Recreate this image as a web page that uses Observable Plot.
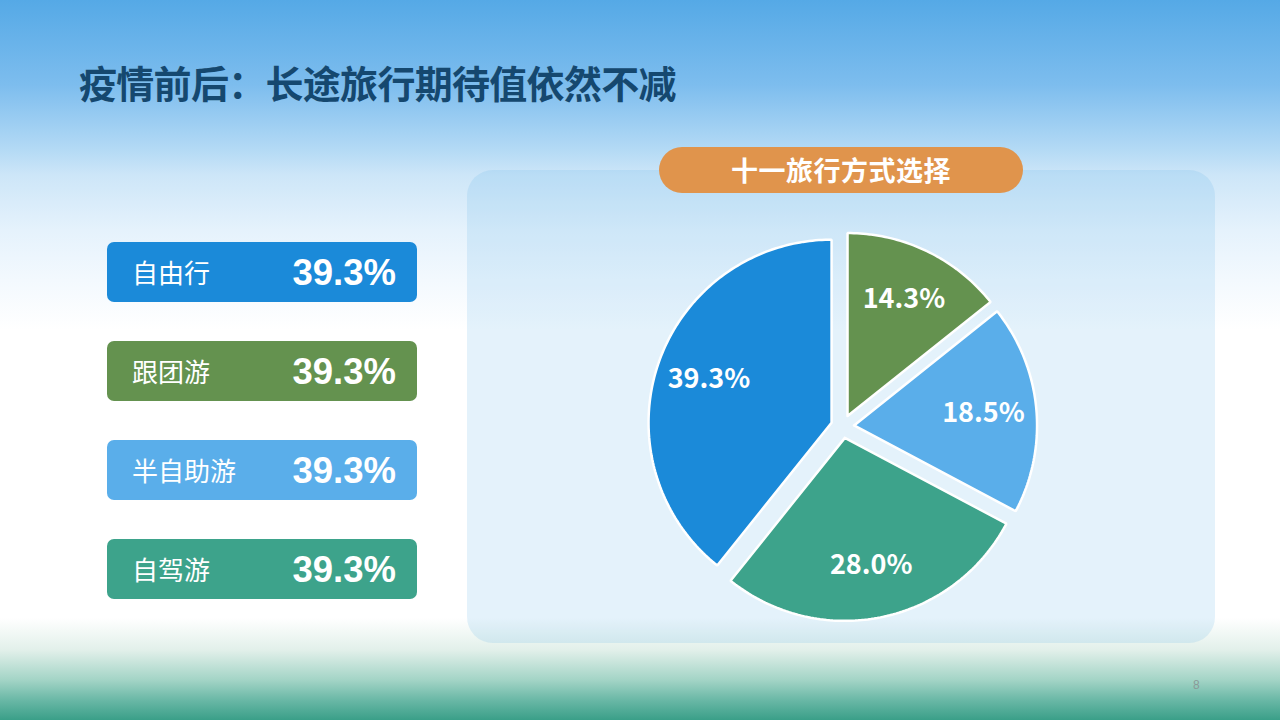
<!DOCTYPE html>
<html>
<head>
<meta charset="utf-8">
<script src="https://cdn.jsdelivr.net/npm/d3@7"></script>
<script src="https://cdn.jsdelivr.net/npm/@observablehq/plot@0.6"></script>
<style>
  html, body { margin: 0; padding: 0; }
  body {
    width: 1280px; height: 720px; overflow: hidden; position: relative;
    font-family: "Noto Sans CJK SC", "Noto Sans", sans-serif;
    background: linear-gradient(to bottom,
      #55a9e6 0px, #7dbdee 85px, #b4daf5 150px, #cde6f8 175px,
      #e5f2fc 230px, #f3f9fe 280px, #ffffff 330px, #ffffff 618px,
      #e2f0ea 650px, #a3d4c6 680px, #6ab8a6 700px, #3a9f88 720px);
  }
  #title {
    position: absolute; left: 79px; top: 56px; font-size: 38px; font-weight: 700;
    color: #15486f; line-height: 52px; letter-spacing: -0.7px; white-space: nowrap;
  }
  #panel {
    position: absolute; left: 467px; top: 170px; width: 748px; height: 473px;
    border-radius: 26px; background: rgba(90,174,233,0.16);
  }
  #pill {
    position: absolute; left: 659px; top: 147px; width: 364px; height: 46px;
    border-radius: 23px; background: #e0944c; color: #fff; font-size: 27px; font-weight: 700;
    text-align: center; line-height: 46px; letter-spacing: 0.5px;
  }
  .box {
    position: absolute; left: 107px; width: 310px; height: 60px; border-radius: 7px; color: #fff;
  }
  .box .lab { position: absolute; left: 25px; top: 0; line-height: 60px; font-size: 26px; font-weight: 400; }
  .box .val { position: absolute; right: 21px; top: 0; line-height: 62px; font-size: 36.5px; font-weight: 700;
    font-family: "Liberation Sans", Arial, sans-serif; }
  #pie { position: absolute; left: 622px; top: 206px; }
  #page { position: absolute; left: 1193px; top: 678px; font-size: 12px; color: #8a9a98; font-family: "Liberation Sans", sans-serif; }
</style>
</head>
<body>
<div id="title"></div>
<div id="panel"></div>
<div id="pill"></div>
<div id="boxes"></div>
<div id="pie"></div>
<div id="page">8</div>
<script>
// ---- data ----
const titleText = "疫情前后：长途旅行期待值依然不减";
const chartTitle = "十一旅行方式选择";
const boxLabels = ["自由行", "跟团游", "半自助游", "自驾游"];
const boxValues = ["39.3%", "39.3%", "39.3%", "39.3%"];
const boxColors = ["#1b8ad9", "#64924f", "#5aaeea", "#3da38b"];

// pie, clockwise from 12 o'clock
const pieCategories = ["跟团游", "半自助游", "自驾游", "自由行"];
const pieValues = [14.3, 18.5, 28.0, 39.3];
const pieLabels = ["14.3%", "18.5%", "28.0%", "39.3%"];
const pieColors = ["#64924f", "#5aaeea", "#3da38b", "#1b8ad9"];

// ---- html parts ----
document.getElementById("title").textContent = titleText;
document.getElementById("pill").textContent = chartTitle;
const boxesEl = document.getElementById("boxes");
boxLabels.forEach((l, i) => {
  const b = document.createElement("div");
  b.className = "box";
  b.style.top = (242 + i * 99) + "px";
  b.style.background = boxColors[i];
  b.innerHTML = `<span class="lab"></span><span class="val"></span>`;
  b.querySelector(".lab").textContent = l;
  b.querySelector(".val").textContent = boxValues[i];
  boxesEl.appendChild(b);
});

// ---- pie geometry from data ----
const R = 0.915, OFF = 0.058, LABR = 0.71;
const arcs = d3.pie().sort(null).value(d => d)(pieValues);
const outline = [];
const labels = [];
arcs.forEach((a, i) => {
  const mid = (a.startAngle + a.endAngle) / 2;
  const ox = OFF * Math.sin(mid), oy = OFF * Math.cos(mid);
  outline.push({k: i, x: ox, y: oy, color: pieColors[i]});
  const n = Math.max(2, Math.ceil((a.endAngle - a.startAngle) / (Math.PI / 180)));
  for (let j = 0; j <= n; j++) {
    const t = a.startAngle + (a.endAngle - a.startAngle) * j / n;
    outline.push({k: i, x: ox + R * Math.sin(t), y: oy + R * Math.cos(t), color: pieColors[i]});
  }
  outline.push({k: i, x: ox, y: oy, color: pieColors[i]});
  labels.push({x: ox + LABR * R * Math.sin(mid), y: oy + LABR * R * Math.cos(mid), text: pieLabels[i], cat: pieCategories[i]});
});

const plot = Plot.plot({
  width: 440, height: 440, margin: 0,
  x: {domain: [-1.1, 1.1], axis: null},
  y: {domain: [-1.1, 1.1], axis: null},
  style: {background: "transparent", overflow: "visible"},
  marks: [
    Plot.line(outline, {x: "x", y: "y", z: "k", fill: "color", stroke: "#ffffff", strokeWidth: 2.5, strokeLinejoin: "miter"}),
    Plot.text(labels, {x: "x", y: "y", text: "text", fill: "#ffffff", fontSize: 27, fontWeight: 700,
      fontFamily: "'Noto Sans CJK SC', 'Noto Sans', sans-serif"})
  ]
});
document.getElementById("pie").appendChild(plot);
</script>
</body>
</html>
